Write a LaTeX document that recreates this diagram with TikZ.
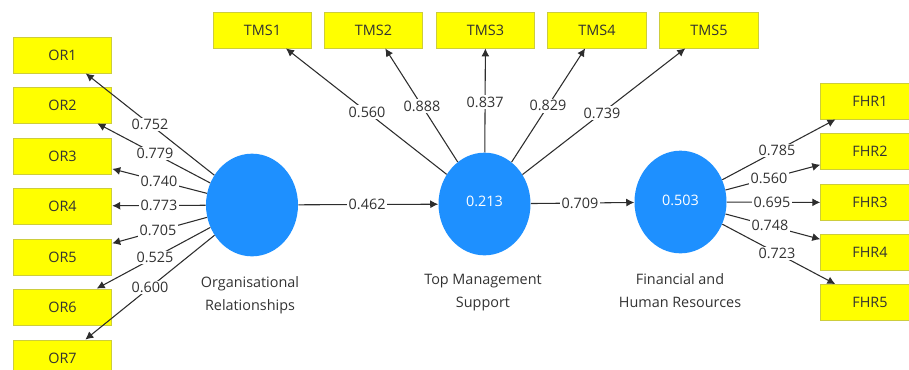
\documentclass[tikz,border=0pt]{standalone}
\usepackage{fontspec}
\setmainfont{Open Sans}
\usetikzlibrary{arrows.meta,shapes.geometric,calc}
\definecolor{lvblue}{RGB}{30,144,255}
\definecolor{indyel}{RGB}{255,255,0}
\definecolor{indbord}{RGB}{205,205,60}
\definecolor{txtgray}{RGB}{50,50,50}
\definecolor{linegray}{RGB}{45,45,45}
\begin{document}
\begin{tikzpicture}[x=0.75pt,y=-0.75pt,
  indbox/.style={draw=indbord, line width=0.6pt, fill=indyel, minimum width=74pt, minimum height=27pt, inner sep=0pt, font=\fontsize{10.8}{12}\selectfont, text=txtgray},
  latent/.style={ellipse, fill=lvblue, draw=none, minimum width=69pt, minimum height=77pt, inner sep=0pt, text=white, font=\fontsize{10.8}{12}\selectfont},
  link/.style={draw=linegray, line width=0.8pt, -{Latex[length=6pt,width=6pt]}},
  lbl/.style={fill=white, inner sep=1pt, text=txtgray, font=\fontsize{10.8}{12}\selectfont},
  lvcaption/.style={align=center, text=txtgray, font=\fontsize{10.8}{17}\selectfont}
]
\useasboundingbox (0,0) rectangle (909,369);

% indicator boxes
\node[indbox] (or1) at (62.5,55) {OR1};
\node[indbox] (or2) at (62.5,105) {OR2};
\node[indbox] (or3) at (62.5,156) {OR3};
\node[indbox] (or4) at (62.5,206) {OR4};
\node[indbox] (or5) at (62.5,257) {OR5};
\node[indbox] (or6) at (62.5,307) {OR6};
\node[indbox] (or7) at (62.5,358) {OR7};

\node[indbox] (tms1) at (262.5,30) {TMS1};
\node[indbox] (tms2) at (373.5,30) {TMS2};
\node[indbox] (tms3) at (485.5,30) {TMS3};
\node[indbox] (tms4) at (597,30) {TMS4};
\node[indbox] (tms5) at (709,30) {TMS5};

\node[indbox] (fhr1) at (870,101) {FHR1};
\node[indbox] (fhr2) at (870,151.5) {FHR2};
\node[indbox] (fhr3) at (870,202.5) {FHR3};
\node[indbox] (fhr4) at (870,252.5) {FHR4};
\node[indbox] (fhr5) at (870,302.5) {FHR5};

% latent variables
\node[latent] (orc) at (252,205) {};
\node[latent] (tmsc) at (484.5,204) {\raisebox{4pt}{0.213}};
\node[latent] (fhrc) at (680.5,202) {\raisebox{3pt}{0.503}};

% captions
\node[lvcaption] (orcap) at (250,295.5) {Organisational\\Relationships};
\node[lvcaption] (tmscap) at (483,292.5) {Top Management\\Support};
\node[lvcaption] (fhrcap) at (680,290.5) {Financial and\\Human Resources};

% connectors
\foreach \i in {1,...,7} {\draw[link] (orc) -- (or\i);}
\foreach \i in {1,...,5} {\draw[link] (tmsc) -- (tms\i);}
\foreach \i in {1,...,5} {\draw[link] (fhrc) -- (fhr\i);}
\draw[link] (orc) -- (tmsc);
\draw[link] (tmsc) -- (fhrc);

% loadings
\node[lbl] (lor1) at ($(orc.center)!0.538!(or1.center)$) {0.752};
\node[lbl] (lor2) at ($(orc.center)!0.512!(or2.center)$) {0.779};
\node[lbl] (lor3) at ($(orc.center)!0.491!(or3.center)$) {0.740};
\node[lbl] (lor4) at ($(orc.center)!0.491!(or4.center)$) {0.773};
\node[lbl] (lor5) at ($(orc.center)!0.496!(or5.center)$) {0.705};
\node[lbl] (lor6) at ($(orc.center)!0.512!(or6.center)$) {0.525};
\node[lbl] (lor7) at ($(orc.center)!0.538!(or7.center)$) {0.600};

\node[lbl] (ltms1) at ($(tmsc.center)!0.529!(tms1.center)$) {0.560};
\node[lbl] (ltms2) at ($(tmsc.center)!0.563!(tms2.center)$) {0.888};
\node[lbl] (ltms3) at ($(tmsc.center)!0.586!(tms3.center)$) {0.837};
\node[lbl] (ltms4) at ($(tmsc.center)!0.564!(tms4.center)$) {0.829};
\node[lbl] (ltms5) at ($(tmsc.center)!0.523!(tms5.center)$) {0.739};

\node[lbl] (lfhr1) at ($(fhrc.center)!0.509!(fhr1.center)$) {0.785};
\node[lbl] (lfhr2) at ($(fhrc.center)!0.467!(fhr2.center)$) {0.560};
\node[lbl] (lfhr3) at ($(fhrc.center)!0.483!(fhr3.center)$) {0.695};
\node[lbl] (lfhr4) at ($(fhrc.center)!0.472!(fhr4.center)$) {0.748};
\node[lbl] (lfhr5) at ($(fhrc.center)!0.509!(fhr5.center)$) {0.723};

\node[lbl] (lpath1) at ($(orc.center)!0.495!(tmsc.center)$) {0.462};
\node[lbl] (lpath2) at ($(tmsc.center)!0.487!(fhrc.center)$) {0.709};
\end{tikzpicture}
\end{document}
